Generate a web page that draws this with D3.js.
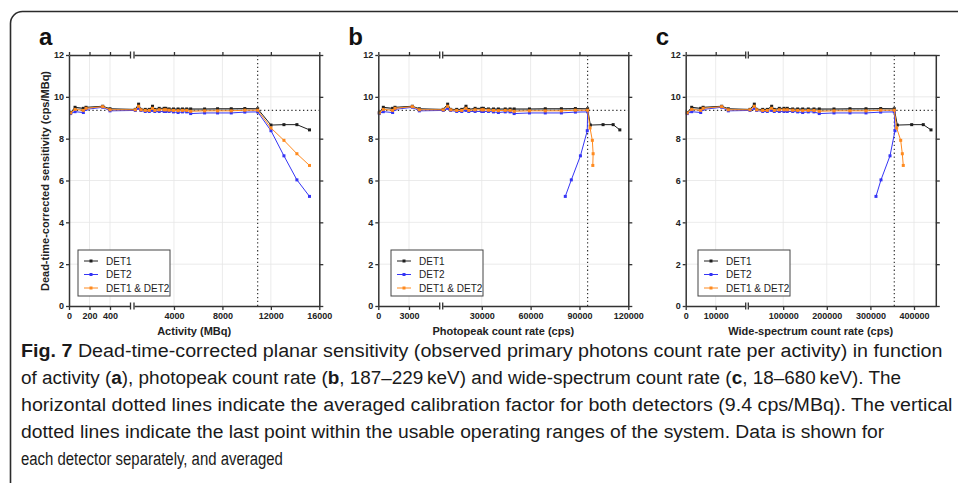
<!DOCTYPE html>
<html>
<head>
<meta charset="utf-8">
<script src="https://cdn.jsdelivr.net/npm/d3@7"></script>
<style>
  body { margin: 0; background: #fff; }
  svg { display: block; }
  .axis text { font-family: Arial, "Liberation Sans", sans-serif; font-weight: bold; font-size: 9px; fill: #222; }
</style>
</head>
<body>
<svg id="fig" width="958" height="483"></svg>
<script>
// sensitivity (cps/MBq) per measurement
const det1Sens = [9.25, 9.50, 9.45, 9.50, 9.55, 9.43, 9.40, 9.65, 9.40, 9.40, 9.40, 9.55, 9.40, 9.45, 9.45, 9.45,
  9.42, 9.42, 9.42, 9.42, 9.42, 9.42, 9.42, 9.43, 9.43, 9.44, 9.43, 8.65, 8.67, 8.67, 8.42];
const det2Sens = [9.20, 9.29, 9.25, 9.40, 9.50, 9.33, 9.35, 9.45, 9.35, 9.30, 9.30, 9.35, 9.30, 9.30, 9.30, 9.30,
  9.30, 9.28, 9.25, 9.28, 9.28, 9.20, 9.23, 9.23, 9.23, 9.27, 9.28, 8.38, 7.18, 6.03, 5.24];
const avgSens = [9.23, 9.40, 9.35, 9.45, 9.53, 9.38, 9.38, 9.55, 9.38, 9.35, 9.35, 9.45, 9.35, 9.38, 9.38, 9.38,
  9.36, 9.35, 9.34, 9.35, 9.35, 9.31, 9.33, 9.33, 9.33, 9.36, 9.36, 8.51, 7.92, 7.28, 6.72];

// activity (MBq)
const activity = [16, 59, 140, 166, 329, 400, 808, 1080, 1270, 1630, 1960, 2230, 2420, 2780, 3190, 3330,
  3600, 3960, 4340, 4700, 5050, 5380, 6530, 7600, 8730, 9850, 10910, 12010, 13080, 14150, 15190];

// photopeak count rate (cps)
const photoShared = [100, 490, 1400, 1630, 3330, 4010, 6350, 9040, 10900, 14600, 17700, 20300, 22000, 25900,
  30000, 31000, 34100, 37200, 40200, 44400, 47400, 49900, 59300, 69000, 78900, 87500, 95000];
const photoDet1 = photoShared.concat([96700, 104500, 110700, 114800]);
const photoDet2 = photoShared.concat([94800, 90600, 85000, 81300]);
const photoAvg = photoShared.concat([96500, 97900, 98400, 98200]);

// wide-spectrum count rate (cps)
const wideShared = [530, 2000, 5000, 5800, 12000, 14200, 23900, 33800, 39200, 53000, 63600, 73600, 79600, 91100,
  101800, 109400, 121700, 133200, 144700, 157600, 170600, 182800, 216500, 253200, 289900, 323600, 354800];
const wideDet1 = wideShared.concat([361700, 394700, 421300, 439000]);
const wideDet2 = wideShared.concat([356400, 345000, 324300, 312800]);
const wideAvg = wideShared.concat([360300, 369500, 373200, 375400]);

const calibration = 9.35;
const usableLimit = [10910, 95000, 354800];
const kneeIndex = 26;

const yTicks = [0, 2, 4, 6, 8, 10, 12];
const seriesNames = ["DET1", "DET2", "DET1 & DET2"];
const seriesColors = ["#1e1e1e", "#3535f5", "#ff8a1e"];
const sensitivities = [det1Sens, det2Sens, avgSens];

const panels = [
  { letter: "a", title: "Activity (MBq)", xs: [activity, activity, activity], limit: usableLimit[0],
    dom1: [0, 600], px1: [69, 130.5], dom2: [700, 16000], px2: [134, 319.3],
    ticks1: [0, 200, 400], ticks2: [4000, 8000, 12000, 16000], legendX: 78 },
  { letter: "b", title: "Photopeak count rate (cps)", xs: [photoDet1, photoDet2, photoAvg], limit: usableLimit[1],
    dom1: [0, 6000], px1: [378.3, 439.7], dom2: [6000, 120000], px2: [442.7, 628.3],
    ticks1: [0, 3000], ticks2: [30000, 60000, 90000, 120000], legendX: 391 },
  { letter: "c", title: "Wide-spectrum count rate (cps)", xs: [wideDet1, wideDet2, wideAvg], limit: usableLimit[2],
    dom1: [0, 20000], px1: [685.7, 745.7], dom2: [20000, 450000], px2: [748.3, 935.8],
    ticks1: [0, 10000], ticks2: [100000, 200000, 300000, 400000], legendX: 698 }
];

const svg = d3.select("#fig");
const font = 'Arial, "Liberation Sans", sans-serif';

svg.append("rect")
  .attr("x", 10.5).attr("y", 11.5)
  .attr("width", 1000).attr("height", 700)
  .attr("rx", 12)
  .attr("fill", "none")
  .attr("stroke", "#2b2b2b")
  .attr("stroke-width", 1.6);

const y = d3.scaleLinear().domain([0, 12]).range([306, 55]);

function brokenScale(p) {
  const s1 = d3.scaleLinear().domain(p.dom1).range(p.px1);
  const s2 = d3.scaleLinear().domain(p.dom2).range(p.px2);
  const f = v => (v <= p.dom1[1] ? s1(v) : s2(v));
  f.s1 = s1;
  f.s2 = s2;
  return f;
}

function styleAxis(sel) {
  sel.attr("class", "axis");
  sel.select(".domain").attr("stroke", "#333").attr("stroke-width", 1.5);
  sel.selectAll(".tick line").attr("stroke", "#333").attr("stroke-width", 1.3);
}

const drawPanel = (p) => {
  const x = brokenScale(p);
  const g = svg.append("g");
  const left = p.px1[0], right = p.px2[1];

  // grid
  g.selectAll(".hgrid").data(yTicks.slice(1, -1)).enter().append("line")
    .attr("x1", left).attr("x2", right)
    .attr("y1", d => y(d)).attr("y2", d => y(d))
    .attr("stroke", "#e6e6e6").attr("stroke-width", 0.8);
  const vgrid = p.ticks1.filter(t => t > 0).map(x.s1)
    .concat(p.ticks2.filter(t => t < p.dom2[1]).map(x.s2));
  g.selectAll(".vgrid").data(vgrid).enter().append("line")
    .attr("x1", d => d).attr("x2", d => d)
    .attr("y1", y(0)).attr("y2", y(12))
    .attr("stroke", "#e6e6e6").attr("stroke-width", 0.8);

  // reference lines
  g.append("line")
    .attr("x1", left).attr("x2", right)
    .attr("y1", y(calibration)).attr("y2", y(calibration))
    .attr("stroke", "#333").attr("stroke-width", 1.2).attr("stroke-dasharray", "1.3,2.6");
  g.append("line")
    .attr("x1", x(p.limit)).attr("x2", x(p.limit))
    .attr("y1", y(0)).attr("y2", y(12))
    .attr("stroke", "#333").attr("stroke-width", 1.2).attr("stroke-dasharray", "1.3,2.6");

  // grey band between DET1 and the average, up to the knee
  const band = d3.area()
    .x(i => x(p.xs[0][i]))
    .y0(i => y(avgSens[i]))
    .y1(i => y(det1Sens[i]));
  g.append("path")
    .datum(d3.range(kneeIndex + 1))
    .attr("d", band)
    .attr("fill", "#8c8c8c")
    .attr("opacity", 0.55);

  // series
  sensitivities.forEach((vals, k) => {
    const pts = vals.map((v, i) => [x(p.xs[k][i]), y(v)]);
    g.append("path")
      .datum(pts)
      .attr("d", d3.line())
      .attr("fill", "none")
      .attr("stroke", seriesColors[k])
      .attr("stroke-width", 1);
    g.selectAll(".m" + k).data(pts).enter().append("rect")
      .attr("x", d => d[0] - 1.5).attr("y", d => d[1] - 1.5)
      .attr("width", 3).attr("height", 3)
      .attr("fill", seriesColors[k]);
  });

  // axes
  styleAxis(g.append("g").attr("transform", `translate(${left},0)`)
    .call(d3.axisLeft(y).tickValues(yTicks).tickSize(3).tickPadding(2).tickSizeOuter(0)));
  styleAxis(g.append("g").attr("transform", `translate(${right},0)`)
    .call(d3.axisRight(y).tickValues(yTicks).tickSize(4).tickFormat("").tickSizeOuter(0)));

  [[x.s1, p.ticks1], [x.s2, p.ticks2]].forEach(([s, t]) => {
    styleAxis(g.append("g").attr("transform", `translate(0,${y(0)})`)
      .call(d3.axisBottom(s).tickValues(t).tickSize(4).tickPadding(3).tickSizeOuter(0).tickFormat(d3.format("d"))));
    styleAxis(g.append("g").attr("transform", `translate(0,${y(12)})`)
      .call(d3.axisTop(s).tickValues(t).tickSize(3).tickFormat("").tickSizeOuter(0)));
  });

  // axis break marks
  [y(0), y(12)].forEach(yy => {
    [p.px1[1], p.px2[0]].forEach(xx => {
      g.append("line")
        .attr("x1", xx).attr("x2", xx)
        .attr("y1", yy - 3.5).attr("y2", yy + 3.5)
        .attr("stroke", "#333").attr("stroke-width", 1.3);
    });
  });

  // titles
  g.append("text")
    .attr("x", (left + right) / 2).attr("y", 335)
    .attr("text-anchor", "middle")
    .style("font-family", font).style("font-weight", "bold").style("font-size", "11px")
    .attr("fill", "#222")
    .text(p.title);
  g.append("text")
    .attr("x", left - 30).attr("y", 45)
    .style("font-family", font).style("font-weight", "bold").style("font-size", "24px")
    .attr("fill", "#111")
    .text(p.letter);

  // legend
  const lg = g.append("g").attr("transform", `translate(${p.legendX},250)`);
  lg.append("rect")
    .attr("width", 92).attr("height", 46)
    .attr("fill", "#fff").attr("stroke", "#444").attr("stroke-width", 1);
  seriesNames.forEach((name, k) => {
    const yy = 11 + k * 13.5;
    lg.append("line")
      .attr("x1", 6).attr("x2", 20).attr("y1", yy).attr("y2", yy)
      .attr("stroke", seriesColors[k]).attr("stroke-width", 1);
    lg.append("rect")
      .attr("x", 11.5).attr("y", yy - 1.5).attr("width", 3).attr("height", 3)
      .attr("fill", seriesColors[k]);
    lg.append("text")
      .attr("x", 28).attr("y", yy + 3.5)
      .style("font-family", font).style("font-size", "10px")
      .attr("fill", "#222")
      .text(name);
  });
};

panels.forEach(p => drawPanel(p));

// y axis title (panel a only)
svg.append("text")
  .attr("transform", "translate(49,181) rotate(-90)")
  .attr("text-anchor", "middle")
  .style("font-family", font).style("font-weight", "bold").style("font-size", "11px")
  .attr("fill", "#222")
  .text("Dead-time-corrected sensitivity (cps/MBq)");

// caption
const captionLines = [
  [["Fig. 7", true], [" Dead-time-corrected planar sensitivity (observed primary photons count rate per activity) in function", false]],
  [["of activity (", false], ["a", true], ["), photopeak count rate (", false], ["b", true],
   [", 187\u2013229\u2009keV) and wide-spectrum count rate (", false], ["c", true], [", 18\u2013680\u2009keV). The", false]],
  [["horizontal dotted lines indicate the averaged calibration factor for both detectors (9.4 cps/MBq). The vertical", false]],
  [["dotted lines indicate the last point within the usable operating ranges of the system. Data is shown for", false]],
  [["each detector separately, and averaged", false]]
];
const captionWidths = [922, 881, 932, 864, 262];

captionLines.forEach((parts, i) => {
  const t = svg.append("text")
    .attr("x", 0).attr("y", 0)
    .style("font-family", '"Liberation Sans", Arial, sans-serif')
    .style("font-size", "19px")
    .attr("fill", "#1a1a1a");
  parts.forEach(([s, b]) => {
    t.append("tspan").style("font-weight", b ? "bold" : "normal").text(s);
  });
  const w = t.node().getComputedTextLength();
  t.attr("transform", `translate(21,${357 + i * 27}) scale(${captionWidths[i] / w},1)`);
});
</script>
</body>
</html>
